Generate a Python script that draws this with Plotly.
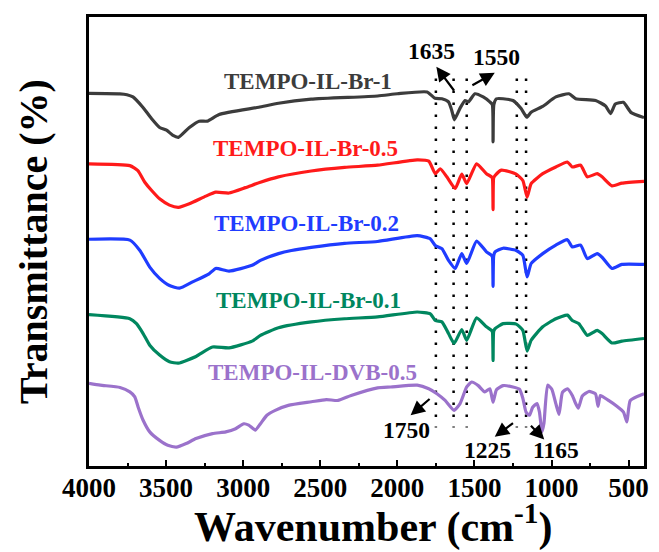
import plotly.graph_objects as go

# FTIR spectra (wavenumber in cm-1, stacked transmittance in arbitrary offset units)
wn_br1 = [4000, 3800, 3754, 3715, 3651, 3595, 3542, 3497, 3458, 3420, 3349, 3285, 3233, 3156, 2899, 2771, 2559, 2128,
          2000, 1807, 1756, 1711, 1668, 1647, 1630, 1593, 1561, 1539, 1497, 1443, 1400, 1384, 1379, 1374, 1357, 1314,
          1250, 1197, 1160, 1132, 1057, 972, 887, 843, 714, 650, 617, 586, 534, 483, 400]
t_br1 = [83.0, 82.9, 82.7, 82.2, 79.9, 77.4, 75.4, 74.8, 73.7, 73.2, 75.4, 76.8, 76.8, 78.3, 79.9, 80.8, 81.7, 82.4,
         82.9, 83.3, 81.9, 81.8, 81.1, 79.2, 77.1, 79.7, 81.4, 81.1, 82.9, 82.2, 81.1, 80.5, 72.2, 80.5, 81.8, 81.8,
         81.4, 79.6, 77.7, 78.8, 80.1, 82.2, 82.9, 81.8, 81.4, 80.2, 78.5, 80.6, 81.0, 78.7, 77.6]

wn_br05 = [4000, 3735, 3683, 3638, 3595, 3542, 3478, 3420, 3349, 3242, 3178, 3092, 2985, 2888, 2771, 2559, 2342,
           2128, 1871, 1796, 1754, 1722, 1679, 1625, 1582, 1550, 1486, 1422, 1389, 1383, 1379, 1375, 1366, 1325,
           1229, 1186, 1158, 1132, 1057, 972, 897, 865, 811, 768, 704, 672, 608, 543, 400]
t_br05 = [67.3, 66.9, 65.8, 63.2, 61.4, 59.5, 58.1, 57.6, 58.4, 60.1, 61.0, 60.8, 62.0, 63.2, 64.4, 65.7, 66.5,
          67.0, 68.2, 67.9, 65.1, 66.2, 64.4, 61.8, 65.0, 62.9, 67.3, 65.1, 64.4, 64.0, 57.1, 64.2, 64.7, 65.9,
          65.0, 63.6, 59.9, 62.9, 65.1, 66.6, 67.7, 66.6, 67.0, 64.4, 65.1, 64.4, 62.4, 63.0, 63.4]

wn_br02 = [4000, 3735, 3670, 3606, 3542, 3478, 3413, 3328, 3221, 3178, 3092, 2942, 2888, 2771, 2687, 2559, 2342,
           2128, 1871, 1786, 1754, 1711, 1668, 1625, 1582, 1550, 1486, 1422, 1389, 1383, 1379, 1375, 1366, 1314,
           1229, 1186, 1158, 1132, 1057, 972, 897, 865, 811, 768, 704, 672, 608, 543, 400]
t_br02 = [50.5, 50.3, 48.0, 44.3, 41.8, 40.2, 39.6, 41.0, 42.8, 44.0, 43.4, 44.7, 45.8, 47.3, 48.0, 48.7, 49.6,
          50.0, 51.3, 50.6, 49.1, 48.4, 45.8, 44.0, 47.3, 45.1, 50.1, 47.7, 46.9, 46.5, 40.0, 46.8, 47.7, 48.5,
          48.0, 46.9, 42.1, 45.1, 47.3, 49.2, 50.4, 48.8, 49.2, 46.2, 47.3, 46.5, 44.0, 44.9, 44.9]

wn_br01 = [4000, 3735, 3692, 3649, 3606, 3542, 3478, 3420, 3306, 3199, 3092, 2942, 2888, 2771, 2557, 2342, 2128,
           1871, 1786, 1754, 1711, 1668, 1632, 1582, 1550, 1486, 1422, 1389, 1383, 1379, 1375, 1366, 1314, 1229,
           1186, 1158, 1132, 1057, 972, 897, 865, 822, 768, 704, 672, 608, 543, 400]
t_br01 = [33.7, 32.8, 31.7, 29.5, 26.9, 24.7, 23.2, 22.9, 24.4, 26.5, 26.3, 27.8, 29.1, 30.8, 32.1, 32.8, 33.2,
          34.3, 33.9, 32.4, 32.1, 29.5, 27.3, 30.4, 28.0, 33.0, 31.0, 30.2, 29.8, 23.5, 30.0, 30.6, 31.7, 31.6,
          30.2, 25.6, 28.0, 31.0, 32.8, 33.6, 32.4, 31.7, 29.1, 30.2, 29.5, 27.4, 27.8, 28.4]

wn_dvb = [4000, 3927, 3799, 3735, 3703, 3681, 3649, 3606, 3542, 3489, 3433, 3370, 3306, 3199, 3113, 3049, 2996,
          2964, 2921, 2888, 2846, 2792, 2707, 2557, 2461, 2385, 2300, 2128, 2043, 1871, 1796, 1743, 1690, 1632,
          1593, 1550, 1518, 1475, 1433, 1400, 1379, 1357, 1314, 1250, 1208, 1186, 1165, 1143, 1122, 1094, 1078,
          1062, 1049, 1025, 998, 972, 951, 929, 897, 865, 843, 826, 800, 758, 715, 698, 683, 630, 576, 533, 511,
          489, 400]
t_dvb = [18.4, 18.0, 17.5, 16.5, 15.4, 13.1, 10.2, 7.6, 5.7, 4.6, 4.2, 5.0, 6.1, 7.2, 7.6, 8.3, 9.4,
         9.1, 8.0, 9.4, 11.3, 12.4, 13.5, 14.3, 14.8, 14.6, 15.7, 17.4, 17.6, 18.0, 17.2, 16.1, 14.6, 12.4,
         13.9, 17.6, 18.7, 17.9, 16.5, 17.2, 14.2, 17.0, 17.9, 17.6, 17.1, 15.1, 12.0, 11.3, 13.1, 13.9, 12.0,
         7.6, 9.5, 18.0, 17.1, 13.9, 11.5, 16.4, 17.2, 15.7, 13.9, 12.9, 15.6, 16.6, 16.1, 13.3, 15.7, 14.6,
         13.3, 12.0, 9.8, 14.6, 16.1]

series = [
    ("TEMPO-IL-Br-1", wn_br1, t_br1, "#3c3c3c"),
    ("TEMPO-IL-Br-0.5", wn_br05, t_br05, "#ff1a1a"),
    ("TEMPO-IL-Br-0.2", wn_br02, t_br02, "#1f3cff"),
    ("TEMPO-IL-Br-0.1", wn_br01, t_br01, "#00875f"),
    ("TEMPO-IL-DVB-0.5", wn_dvb, t_dvb, "#9b72cb"),
]

# sample labels: left edge wavenumber and vertical position
label_x = [3135, 3210, 3199, 3189, 3240]
label_y = [85.7, 70.7, 54.0, 36.9, 20.9]

# marked band positions
bands = [1750, 1635, 1550, 1225, 1165]
band_top, band_bottom = 86.3, 8.6

# band callouts: text, text position, arrow head, arrow tail
callouts = [
    ("1635", 1776, 92.4, 1747, 88.9, 1625, 83.3),
    ("1550", 1354, 91.1, 1368, 87.6, 1523, 84.6),
    ("1750", 1943, 8.1, 1914, 11.3, 1781, 15.2),
    ("1225", 1418, 3.5, 1368, 6.5, 1240, 9.8),
    ("1165", 970, 3.5, 1047, 5.9, 1143, 9.3),
]

FONT = "Liberation Serif, Times New Roman, serif"

fig = go.Figure()

for b in bands:
    fig.add_trace(go.Scatter(x=[b, b], y=[band_top, band_bottom], mode="lines",
                             line=dict(color="black", width=2.5, dash="2.5px,9.5px"),
                             showlegend=False, hoverinfo="skip"))

for name, wx, ty, col in series:
    fig.add_trace(go.Scatter(x=wx, y=ty, mode="lines", name=name,
                             line=dict(color=col, width=3.2, shape="spline", smoothing=0.5),
                             showlegend=False))

for (name, wx, ty, col), lx, ly in zip(series, label_x, label_y):
    fig.add_annotation(x=lx, y=ly, text="<b>" + name + "</b>", showarrow=False,
                       xanchor="left", yanchor="middle",
                       font=dict(family=FONT, size=23, color=col))

for txt, tx, tyy, hx, hy, ax_, ay_ in callouts:
    fig.add_annotation(x=tx, y=tyy, text="<b>" + txt + "</b>", showarrow=False,
                       font=dict(family=FONT, size=23.5, color="black"))
    fig.add_annotation(x=hx, y=hy, ax=ax_, ay=ay_, axref="x", ayref="y", text="",
                       showarrow=True, arrowhead=2, arrowsize=1.3, arrowwidth=2.2,
                       arrowcolor="black")

# x-axis title placed as an annotation below the tick labels
fig.add_annotation(xref="paper", yref="paper", x=0.512, y=-0.13, xanchor="center", yanchor="middle",
                   text="<b>Wavenumber (cm<sup>-1</sup>)</b>", showarrow=False,
                   font=dict(family=FONT, size=42, color="black"))

fig.update_layout(
    width=659, height=552,
    margin=dict(l=89, r=10, t=17, b=86),
    paper_bgcolor="white", plot_bgcolor="white",
    font=dict(family=FONT, color="black"),
)

fig.update_xaxes(
    range=[4000, 400], showgrid=False, zeroline=False,
    showline=True, mirror=True, linecolor="black", linewidth=2.5,
    tickmode="array", tickvals=[4000, 3500, 3000, 2500, 2000, 1500, 1000, 500],
    ticktext=["4000", "3500", "3000", "2500", "2000", "1500", "1000", "500"],
    ticks="inside", ticklen=6, tickwidth=2, tickcolor="black",
    minor=dict(tickvals=[3750, 3250, 2750, 2250, 1750, 1250, 750], ticks="inside", ticklen=3,
               tickwidth=2, tickcolor="black"),
    tickfont=dict(family=FONT, size=27, color="black", weight="bold"),
    ticklabelstandoff=-4,
)

fig.update_yaxes(
    range=[0, 100], showgrid=False, zeroline=False,
    showline=True, mirror=True, linecolor="black", linewidth=2.5,
    showticklabels=False, ticks="",
    title=dict(text="<b>Transmittance (%)</b>", font=dict(family=FONT, size=40), standoff=27),
)

fig.write_html("out.html")
